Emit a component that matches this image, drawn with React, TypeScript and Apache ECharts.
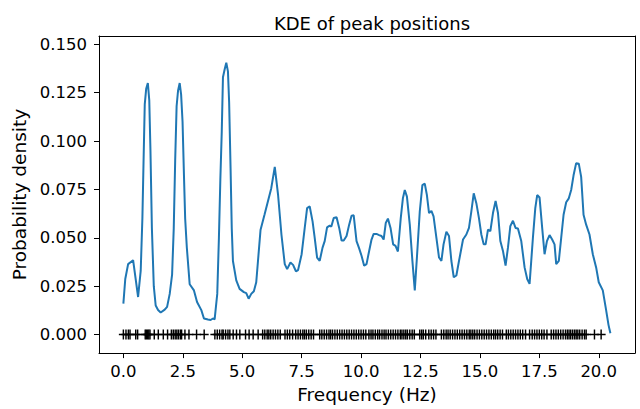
import React, { useEffect, useRef } from "react";
import * as echarts from "echarts";

const kdeX = [0.0, 0.08, 0.2, 0.41, 0.62, 0.73, 0.8, 0.85, 0.9, 0.96, 1.03, 1.09, 1.14, 1.2, 1.28, 1.36, 1.46, 1.57, 1.74, 1.84, 1.95, 2.05, 2.12, 2.18, 2.24, 2.3, 2.37, 2.43, 2.49, 2.55, 2.6, 2.67, 2.79, 2.97, 3.1, 3.28, 3.39, 3.56, 3.67, 3.77, 3.84, 3.95, 4.02, 4.08, 4.14, 4.19, 4.26, 4.33, 4.4, 4.45, 4.51, 4.56, 4.61, 4.75, 4.89, 5.07, 5.17, 5.27, 5.38, 5.49, 5.59, 5.77, 5.94, 6.08, 6.22, 6.37, 6.51, 6.65, 6.79, 6.89, 7.03, 7.14, 7.26, 7.35, 7.5, 7.63, 7.73, 7.84, 7.96, 8.05, 8.15, 8.26, 8.38, 8.47, 8.57, 8.68, 8.75, 8.85, 8.97, 9.08, 9.18, 9.27, 9.39, 9.5, 9.6, 9.69, 9.81, 9.92, 10.02, 10.13, 10.23, 10.34, 10.44, 10.53, 10.65, 10.76, 10.86, 10.95, 11.04, 11.13, 11.24, 11.35, 11.45, 11.55, 11.67, 11.76, 11.84, 11.93, 12.05, 12.16, 12.26, 12.35, 12.47, 12.58, 12.68, 12.77, 12.86, 12.96, 13.05, 13.17, 13.28, 13.38, 13.47, 13.59, 13.7, 13.8, 13.9, 14.01, 14.12, 14.29, 14.43, 14.54, 14.64, 14.74, 14.85, 14.96, 15.06, 15.16, 15.24, 15.34, 15.44, 15.55, 15.66, 15.76, 15.86, 15.97, 16.08, 16.18, 16.28, 16.39, 16.5, 16.6, 16.74, 16.88, 16.99, 17.09, 17.23, 17.33, 17.41, 17.51, 17.62, 17.72, 17.82, 17.93, 18.04, 18.14, 18.21, 18.32, 18.42, 18.52, 18.63, 18.74, 18.84, 18.94, 19.05, 19.16, 19.26, 19.36, 19.47, 19.61, 19.75, 19.89, 20.0, 20.17, 20.31, 20.41, 20.49];
const kdeY = [0.016, 0.0287, 0.0364, 0.0384, 0.0194, 0.033, 0.06, 0.09, 0.119, 0.127, 0.13, 0.121, 0.095, 0.055, 0.025, 0.015, 0.0127, 0.0114, 0.0129, 0.0143, 0.021, 0.031, 0.055, 0.09, 0.118, 0.126, 0.13, 0.124, 0.11, 0.082, 0.06, 0.045, 0.026, 0.0228, 0.0168, 0.0126, 0.0083, 0.0078, 0.0075, 0.0083, 0.0078, 0.021, 0.05, 0.08, 0.105, 0.133, 0.137, 0.1405, 0.136, 0.12, 0.086, 0.055, 0.038, 0.028, 0.0236, 0.0219, 0.0214, 0.0185, 0.021, 0.0224, 0.027, 0.054, 0.062, 0.0687, 0.0755, 0.0866, 0.072, 0.0517, 0.0364, 0.0338, 0.0372, 0.036, 0.0327, 0.0333, 0.0415, 0.0551, 0.0653, 0.0662, 0.0585, 0.05, 0.0398, 0.0381, 0.0449, 0.0483, 0.0554, 0.0563, 0.0558, 0.0602, 0.0606, 0.0551, 0.0486, 0.0486, 0.0509, 0.0568, 0.0614, 0.0616, 0.0483, 0.0445, 0.0407, 0.0356, 0.0364, 0.0432, 0.0491, 0.052, 0.052, 0.0514, 0.0509, 0.0491, 0.0577, 0.0599, 0.0551, 0.0466, 0.0458, 0.0429, 0.0602, 0.0704, 0.0747, 0.0713, 0.0568, 0.0381, 0.0228, 0.0398, 0.0636, 0.0772, 0.078, 0.0721, 0.0628, 0.0639, 0.0611, 0.05, 0.0398, 0.0381, 0.0466, 0.0531, 0.0509, 0.038, 0.0296, 0.0305, 0.038, 0.0491, 0.0517, 0.0551, 0.0636, 0.073, 0.0679, 0.0602, 0.0517, 0.0466, 0.0466, 0.0542, 0.0534, 0.0628, 0.069, 0.0628, 0.0483, 0.0432, 0.0356, 0.0449, 0.056, 0.0588, 0.0551, 0.0548, 0.0483, 0.0347, 0.0287, 0.0262, 0.05, 0.0653, 0.0721, 0.0708, 0.0551, 0.0415, 0.0483, 0.0514, 0.0491, 0.0466, 0.0364, 0.0381, 0.05, 0.0619, 0.0684, 0.0704, 0.0747, 0.0823, 0.0886, 0.0883, 0.0815, 0.0619, 0.0568, 0.0517, 0.0415, 0.0347, 0.027, 0.0228, 0.0126, 0.005, 0.0007];

const rugX = [
  0.0, 0.11, 0.21, 0.28, 0.52, 0.6, 0.92, 0.97, 1.02, 1.07, 1.12, 1.3, 1.47, 1.68, 1.86,
  2.02, 2.1, 2.18, 2.25, 2.32, 2.4, 2.45, 2.59, 2.76, 3.08, 3.4, 3.85, 3.95, 4.05, 4.15, 4.2,
  4.3, 4.4, 4.48, 4.62, 4.76, 4.9, 5.14, 5.29, 5.46, 5.67, 5.86, 5.95, 6.05, 6.12, 6.2, 6.3,
  6.4, 6.5, 6.6, 6.8, 6.9, 7.0, 7.12, 7.25, 7.35, 7.45, 7.55, 7.62, 7.7, 7.8, 7.9, 8.0, 8.26,
  8.35, 8.45, 8.55, 8.65, 8.72, 8.8, 8.9, 9.0, 9.1, 9.2, 9.3, 9.4, 9.5, 9.6, 9.7, 9.8, 9.9,
  10.0, 10.1, 10.2, 10.33, 10.42, 10.5, 10.6, 10.7, 10.78, 10.88, 10.97, 11.05, 11.15, 11.25,
  11.35, 11.45, 11.55, 11.65, 11.72, 11.8, 11.88, 11.95, 12.05, 12.15, 12.24, 12.47, 12.55,
  12.62, 12.72, 12.85, 12.95, 13.05, 13.15, 13.38, 13.48, 13.58, 13.66, 13.75, 13.85, 13.95,
  14.05, 14.15, 14.25, 14.35, 14.45, 14.55, 14.62, 14.7, 14.78, 14.88, 14.98, 15.08, 15.18,
  15.28, 15.38, 15.48, 15.58, 15.66, 15.75, 15.85, 15.95, 16.11, 16.2, 16.3, 16.4, 16.5, 16.6,
  16.7, 16.8, 16.92, 17.09, 17.2, 17.3, 17.4, 17.5, 17.6, 17.7, 17.82, 18.0, 18.1, 18.2, 18.3,
  18.4, 18.5, 18.6, 18.68, 18.75, 18.82, 18.9, 18.98, 19.05, 19.12, 19.2, 19.3, 19.4, 19.47,
  19.82, 20.1,
];

const xTicks = [0, 2.5, 5, 7.5, 10, 12.5, 15, 17.5, 20];
const yTicks = [0, 0.025, 0.05, 0.075, 0.1, 0.125, 0.15];

const FONT = "DejaVu Sans";
const X_MIN = -1.025;
const X_MAX = 21.525;
const Y_MIN = -0.0096;
const Y_MAX = 0.1543;

const frameAxis = (position: string, min: number, max: number) => ({
  type: "value",
  position,
  min,
  max,
  splitLine: { show: false },
  axisLine: { show: true, onZero: false, lineStyle: { color: "#000", width: 1 } },
  axisTick: { show: false },
  axisLabel: { show: false },
});

export default function App() {
  const ref = useRef<HTMLDivElement>(null);
  useEffect(() => {
    document.body.style.margin = "0";
    const chart = echarts.init(ref.current!, null, { renderer: "svg" });
    const kde = kdeX.map((x, i) => [x, kdeY[i]]);
    const rug = rugX.map((x) => [x, 0]);
    chart.setOption({
      animation: false,
      backgroundColor: "#fff",
      title: {
        text: "KDE of peak positions",
        left: 367,
        textAlign: "center",
        top: 9,
        textStyle: { fontFamily: FONT, fontSize: 18, fontWeight: "normal", color: "#000" },
      },
      grid: {
        left: 99,
        right: 5,
        top: 36,
        bottom: 53,
      },
      xAxis: [
        {
          type: "value",
          position: "bottom",
          min: X_MIN,
          max: X_MAX,
          splitLine: { show: false },
          axisLine: { show: true, onZero: false, lineStyle: { color: "#000", width: 1 } },
          axisTick: {
            show: true,
            length: 5,
            customValues: xTicks,
            lineStyle: { color: "#000", width: 1 },
          },
          axisLabel: {
            customValues: xTicks,
            formatter: (v: number) => v.toFixed(1),
            color: "#000",
            fontFamily: FONT,
            fontSize: 16.5,
            margin: 10,
          },
          name: "Frequency (Hz)",
          nameLocation: "middle",
          nameGap: 29,
          nameTextStyle: { fontFamily: FONT, fontSize: 18.5, color: "#000" },
        },
        frameAxis("top", X_MIN, X_MAX),
      ],
      yAxis: [
        {
          type: "value",
          position: "left",
          min: Y_MIN,
          max: Y_MAX,
          splitLine: { show: false },
          axisLine: { show: true, onZero: false, lineStyle: { color: "#000", width: 1 } },
          axisTick: {
            show: true,
            length: 5,
            customValues: yTicks,
            lineStyle: { color: "#000", width: 1 },
          },
          axisLabel: {
            customValues: yTicks,
            formatter: (v: number) => v.toFixed(3),
            color: "#000",
            fontFamily: FONT,
            fontSize: 16.5,
            margin: 12,
          },
          name: "Probability density",
          nameLocation: "middle",
          nameRotate: 90,
          nameGap: 69,
          nameTextStyle: { fontFamily: FONT, fontSize: 18.5, color: "#000" },
        },
        frameAxis("right", Y_MIN, Y_MAX),
      ],
      series: [
        {
          type: "line",
          data: kde,
          xAxisIndex: 0,
          yAxisIndex: 0,
          showSymbol: false,
          symbol: "none",
          lineStyle: { color: "#1f77b4", width: 2 },
          z: 2,
        },
        {
          type: "scatter",
          data: rug,
          xAxisIndex: 0,
          yAxisIndex: 0,
          symbol: "path://M4.2,0H5.8V10H4.2ZM0,4.2H10V5.8H0Z",
          symbolSize: [9, 10],
          itemStyle: { color: "#000", opacity: 1 },
          z: 3,
        },
      ],
    });
    return () => chart.dispose();
  }, []);
  return (
    <div
      ref={ref}
      style={{ position: "absolute", left: 0, top: 0, width: 640, height: 409 }}
    />
  );
}
